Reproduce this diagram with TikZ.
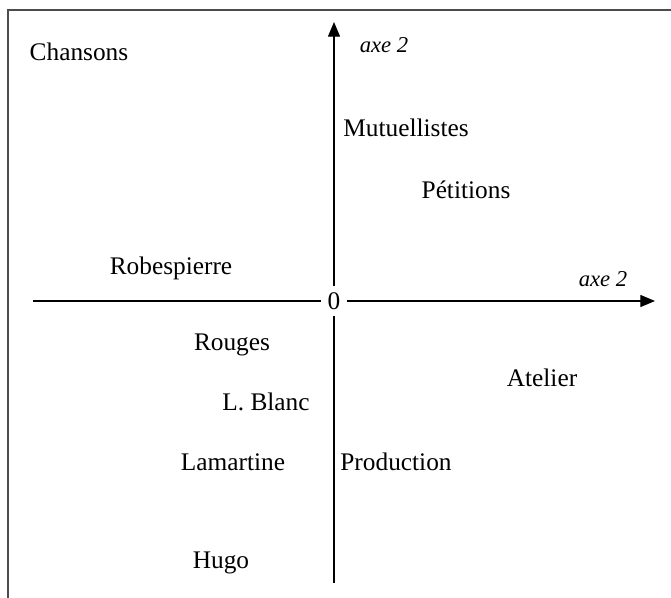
\documentclass[tikz,border=0pt]{standalone}
\usepackage{fontspec}
\setmainfont{Liberation Serif}
\usetikzlibrary{arrows.meta}

\tikzset{
		plan/.style={
			x=0.75pt,y=-0.75pt,
			every node/.style={font=\fontsize{19}{22}\selectfont}
		},
		cadre/.style={line width=1.1pt,draw=black!70},
		axe/.style={line width=0.9pt},
		fleche/.style={axe,-{Triangle[length=11pt,width=9pt]}},
		titre/.style={font=\fontsize{17}{20}\selectfont\itshape}
	}

\begin{document}
\begin{tikzpicture}[plan]
				\useasboundingbox (0,0) rectangle (671,598);
				% cadre
				\draw[cadre] (8,598) -- (8,10) -- (671,10);
				% axes
				\node[inner sep=4.5pt] (o) at (334,301) {0};
				\coordinate (haut) at (334,22);
				\coordinate (bas) at (334,583);
				\coordinate (gauche) at (33,301);
				\coordinate (droite) at (655,301);
				\draw[fleche] (o) -- (haut);
				\draw[axe] (o) -- (bas);
				\draw[axe] (gauche) -- (o);
				\draw[fleche] (o) -- (droite);
				\node[titre] (axeh) at (384,45) {axe 2};
				\node[titre] (axed) at (603,279) {axe 2};
				% points
				\node (chansons) at (79,52) {Chansons};
				\node (mutuellistes) at (406,128) {Mutuellistes};
				\node (petitions) at (466,190) {Pétitions};
				\node (robespierre) at (171,268) {Robespierre};
				\node (rouges) at (232,345) {Rouges};
				\node (atelier) at (542,378) {Atelier};
				\node (blanc) at (266,402) {L. Blanc};
				\node (lamartine) at (233,462) {Lamartine};
				\node (production) at (396,462) {Production};
				\node (hugo) at (221,563) {Hugo};
			\end{tikzpicture}
\end{document}
